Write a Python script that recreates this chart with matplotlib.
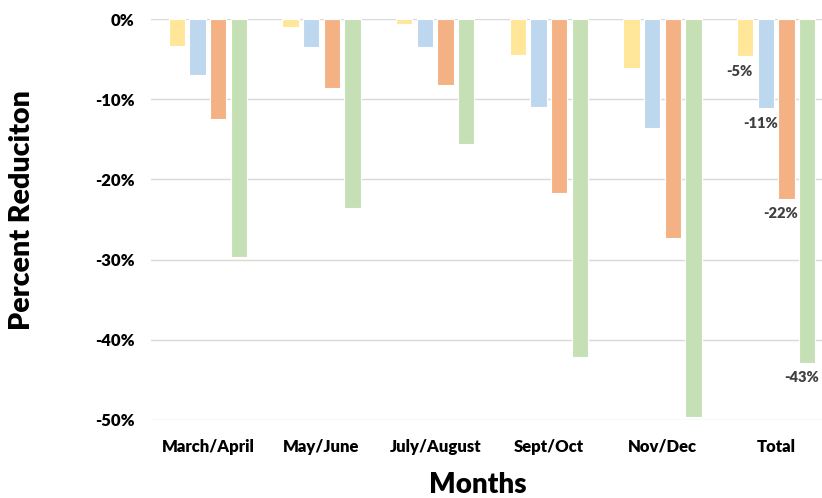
import numpy as np
from matplotlib import pyplot as plt
from matplotlib.ticker import FuncFormatter

plt.rcParams['font.family'] = ['Lato', 'DejaVu Sans']

months = ['March/April', 'May/June', 'July/August', 'Sept/Oct', 'Nov/Dec', 'Total']
series_a = [-3.3, -0.9, -0.6, -4.5, -6.1, -4.6]
series_b = [-6.9, -3.4, -3.5, -10.9, -13.6, -11.1]
series_c = [-12.4, -8.6, -8.2, -21.7, -27.3, -22.4]
series_d = [-29.7, -23.6, -15.6, -42.2, -49.7, -42.9]
total_labels = ['-5%', '-11%', '-22%', '-43%']

colors = ['#FFE699', '#BDD7EE', '#F4B183', '#C5E0B4']

fig = plt.figure(figsize=(8.22, 4.98), dpi=100)
W, H = 822, 498
ax = fig.add_axes([151 / W, 1 - 419.5 / H, 682 / W, 400 / H])

x = np.arange(len(months))
pitch = 0.182
width = 0.142
all_series = [series_a, series_b, series_c, series_d]
for i, (vals, col) in enumerate(zip(all_series, colors)):
    xs = x + (i - 1.5) * pitch
    ax.bar(xs, vals, width, color=col, edgecolor='white', linewidth=0.8, zorder=2)
    # data label on the Total group only
    ax.annotate(total_labels[i], (xs[-1], vals[-1]), xytext=(-4, -11),
                textcoords='offset points', ha='center', va='center',
                fontsize=10.5, fontweight='heavy', color='#404040')

ax.set_xlim(-0.5, len(months) - 0.5)
ax.set_ylim(-50, 0)
ax.set_yticks(np.arange(-50, 1, 10))
ax.yaxis.set_major_formatter(FuncFormatter(lambda v, p: '{:.0f}%'.format(v)))
ax.set_xticks(x)
ax.set_xticklabels(months)
ax.grid(axis='y', color='#D9D9D9', linewidth=1, zorder=0)
for s in ax.spines.values():
    s.set_visible(False)
ax.tick_params(length=0, labelsize=12)
for lab in ax.get_xticklabels() + ax.get_yticklabels():
    lab.set_fontweight('heavy')
ax.tick_params(axis='y', pad=12)
ax.tick_params(axis='x', pad=14)

fig.text(22 / W, 1 - 210 / H, 'Percent Reduciton', rotation=90, ha='center', va='center',
         fontsize=20.5, fontweight='heavy')
fig.text(478 / W, 1 - 485 / H, 'Months', ha='center', va='center',
         fontsize=20, fontweight='heavy')

plt.savefig('out.png', dpi=100)
